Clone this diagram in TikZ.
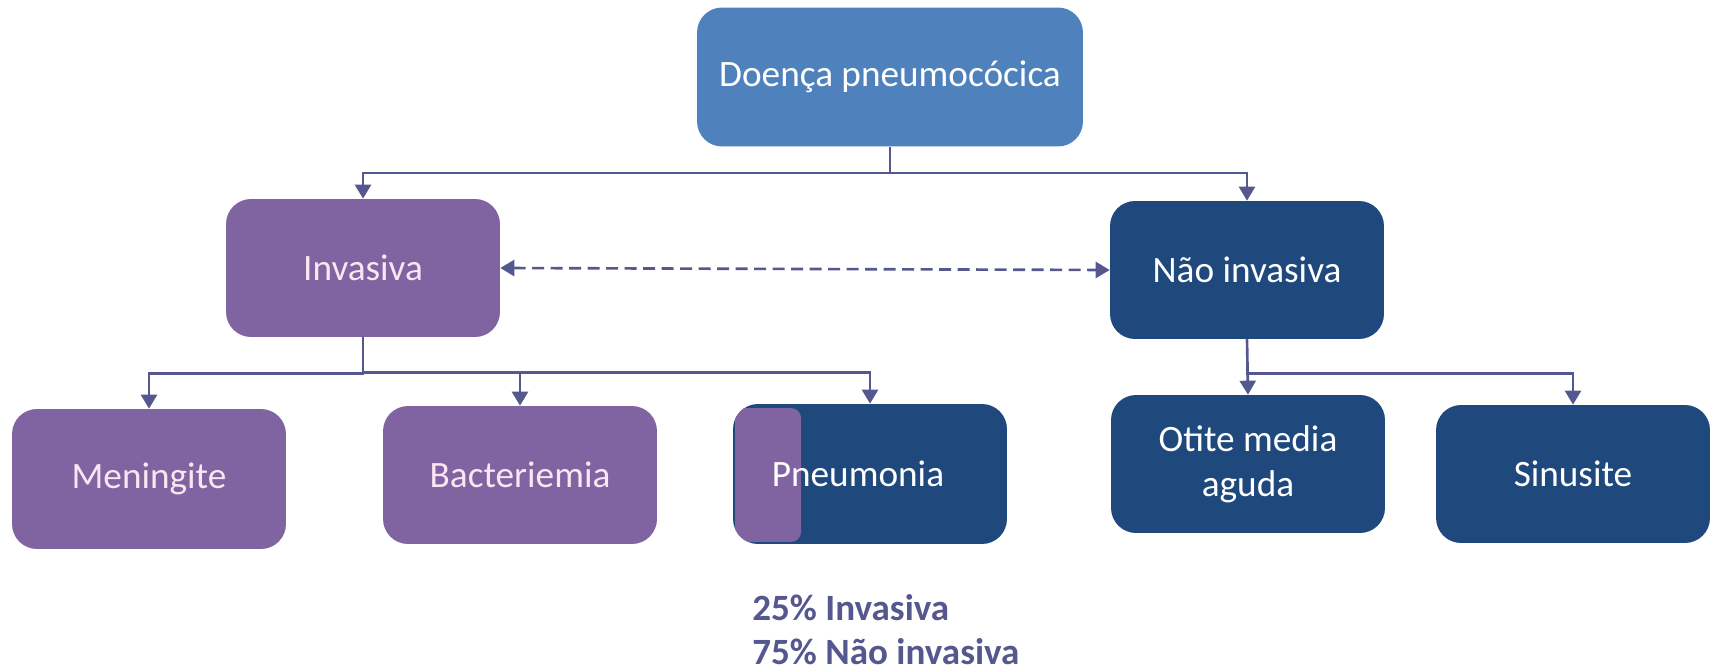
\documentclass[tikz,border=0pt]{standalone}
\usepackage{fontspec}
\setmainfont{Carlito}
\usetikzlibrary{arrows.meta, positioning}

\definecolor{topblue}{HTML}{4F81BD}
\definecolor{invpurple}{HTML}{8064A2}
\definecolor{navy}{HTML}{1F497D}
\definecolor{linkcol}{HTML}{55588F}
\definecolor{pinktext}{HTML}{FCE4F2}

\begin{document}
\begin{tikzpicture}[
    x=0.02cm, y=-0.02cm,
    box/.style={rectangle, rounded corners=0.5cm, minimum width=5.48cm, minimum height=2.76cm, inner sep=0pt, align=center, font=\fontsize{21.2}{25.4}\selectfont},
    invbox/.style={box, fill=invpurple, text=pinktext},
    nonbox/.style={box, fill=navy, text=white},
    link/.style={draw=linkcol, line width=1.5pt, >={Triangle[width=0.32cm, length=0.28cm]}, ->}
]
    \useasboundingbox[fill=white] (0,0) rectangle (1713,669);

    % Top
    \node[box, fill=topblue, text=white, minimum width=7.72cm, minimum height=2.78cm] (doenca) at (890,77) {Doença pneumocócica};

    % Second level
    \node[invbox] (inv) at (363,268) {Invasiva};
    \node[nonbox] (nao) at (1247,270) {Não invasiva};

    % Third level
    \node[invbox, minimum height=2.8cm] (men) at (149,479) {Meningite};
    \node[invbox] (bac) at (520,475) {Bacteriemia};
    \node[nonbox, minimum height=2.8cm, path picture={
        \fill[invpurple, rounded corners=0.2cm]
            ([shift={(2,4)}]path picture bounding box.north west) rectangle
            ([shift={(68,-2)}]path picture bounding box.south west);
    }] (pne) at (870,474) {Pneumonia\hspace*{0.48cm}};
    \node[nonbox] (oti) at (1248,464) {Otite media\\aguda};
    \node[nonbox] (sin) at (1573,474) {Sinusite};

    % Note
    \node[anchor=north west, inner sep=0pt, align=left, text=linkcol, font=\bfseries\fontsize{21.1}{25.2}\selectfont] (note) at (752,594) {25\% Invasiva\\75\% Não invasiva};

    % Connectors
    \draw[link] (doenca.south) -- ++(0,26) -| (inv.north);
    \draw[link] (doenca.south) -- ++(0,26) -| (nao.north);
    \draw[link, <->, dash pattern=on 0.24cm off 0.13cm] (inv.east) -- (nao.west);
    \draw[link] (inv.south) -- ++(0,36) -| (men.north);
    \draw[link] (inv.south) -- ++(0,35) -| (bac.north);
    \draw[link] (inv.south) -- ++(0,35) -| (pne.north);
    \draw[link] (nao.south) -- (oti.north);
    \draw[link] (nao.south) -- ++(0,34) -| (sin.north);
\end{tikzpicture}
\end{document}
